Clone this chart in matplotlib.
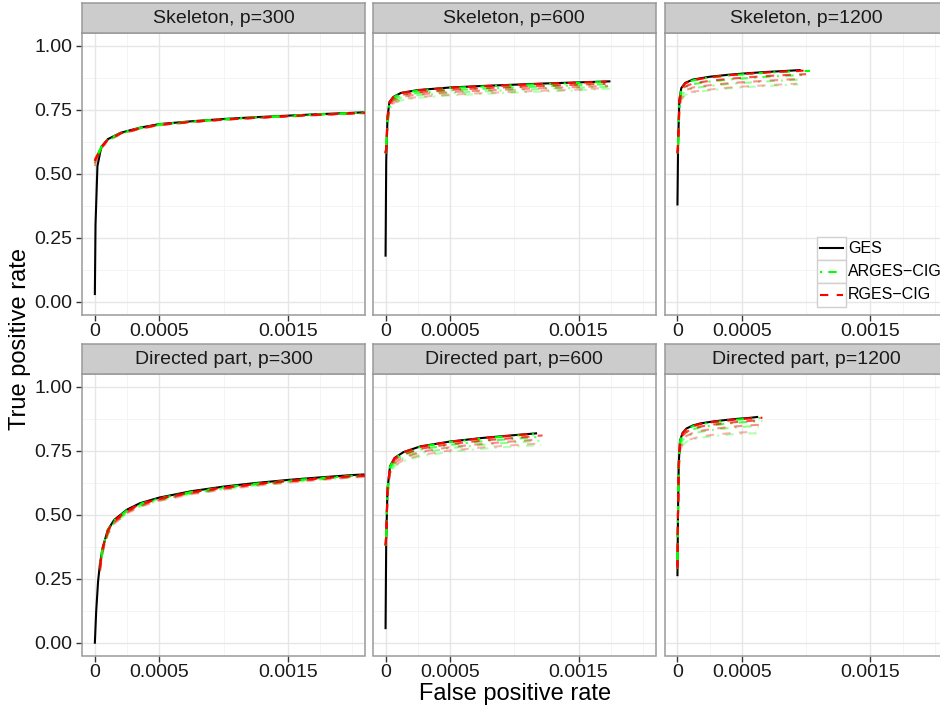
import numpy as np
import matplotlib
matplotlib.use("Agg")
import matplotlib.pyplot as plt
from matplotlib.patches import Rectangle
from matplotlib.lines import Line2D

plt.rcParams['font.family'] = ['Liberation Sans', 'DejaVu Sans']

nan = np.nan

# ---------------- data ----------------
panel_titles = ["Skeleton, p=300", "Skeleton, p=600", "Skeleton, p=1200",
                "Directed part, p=300", "Directed part, p=600", "Directed part, p=1200"]
method_names = ["GES", "ARGES\u2212CIG", "RGES\u2212CIG"]
variant_alpha = [0.3, 0.45, 0.7, 1.0]   # lightest (lowest curve) first

# Skeleton, p=300
skel300_fpr = [0, 5e-6, 2e-5, 5e-5, 1e-4, 2e-4, 3.5e-4, 5e-4, 7.5e-4, 1e-3, 1.25e-3, 1.5e-3, 1.75e-3, 2e-3, 2.3e-3]
skel300_ges = [0.03, 0.30, 0.53, 0.605, 0.635, 0.66, 0.68, 0.694, 0.705, 0.714, 0.721, 0.727, 0.733, 0.738, 0.745]
skel300_arges = [
    [0.53, 0.54, 0.560, 0.598, 0.629, 0.655, 0.676, 0.690, 0.702, 0.711, 0.718, 0.724, 0.730, 0.735, 0.742],
    [0.54, 0.55, 0.565, 0.601, 0.631, 0.657, 0.677, 0.691, 0.703, 0.712, 0.719, 0.725, 0.731, 0.736, 0.743],
    [0.55, 0.555, 0.570, 0.603, 0.633, 0.658, 0.678, 0.692, 0.704, 0.713, 0.720, 0.726, 0.732, 0.737, 0.744],
    [0.55, 0.56, 0.575, 0.605, 0.634, 0.659, 0.679, 0.693, 0.704, 0.713, 0.720, 0.726, 0.732, 0.737, 0.744],
]
skel300_rges = [
    [0.53, 0.54, 0.559, 0.597, 0.628, 0.654, 0.675, 0.689, 0.701, 0.710, 0.717, 0.723, 0.729, 0.734, 0.741],
    [0.54, 0.55, 0.564, 0.600, 0.630, 0.656, 0.676, 0.690, 0.702, 0.711, 0.718, 0.724, 0.730, 0.735, 0.742],
    [0.55, 0.555, 0.569, 0.602, 0.632, 0.657, 0.677, 0.691, 0.703, 0.712, 0.719, 0.725, 0.731, 0.736, 0.743],
    [0.55, 0.56, 0.574, 0.604, 0.633, 0.658, 0.678, 0.692, 0.703, 0.712, 0.719, 0.725, 0.731, 0.736, 0.743],
]
skel300_arges_end = [2.3e-3, 2.3e-3, 2.3e-3, 2.3e-3]
skel300_rges_end = [2.3e-3, 2.3e-3, 2.3e-3, 2.3e-3]

# Skeleton, p=600
skel600_fpr = [0, 5e-6, 1.5e-5, 3e-5, 6e-5, 1.2e-4, 2.5e-4, 5e-4, 7.5e-4, 1e-3, 1.25e-3, 1.5e-3, 1.74e-3]
skel600_ges = [0.18, 0.55, 0.72, 0.78, 0.80, 0.816, 0.827, 0.837, 0.843, 0.848, 0.853, 0.857, 0.861]
skel600_arges = [
    [0.58, 0.60, 0.69, 0.750, 0.772, 0.787, 0.797, 0.806, 0.812, 0.817, 0.822, 0.826, 0.833],
    [0.58, 0.60, 0.70, 0.760, 0.781, 0.797, 0.807, 0.816, 0.822, 0.827, 0.832, 0.836, 0.840],
    [0.58, 0.60, 0.71, 0.770, 0.790, 0.806, 0.816, 0.826, 0.832, 0.837, 0.842, 0.846, 0.850],
    [0.58, 0.60, 0.72, 0.778, 0.798, 0.814, 0.825, 0.835, 0.841, 0.846, 0.851, 0.855, 0.859],
]
skel600_rges = [
    [0.58, 0.60, 0.69, 0.752, 0.775, 0.790, 0.800, 0.809, 0.815, 0.820, 0.825, 0.829, 0.835],
    [0.58, 0.60, 0.70, 0.762, 0.784, 0.800, 0.810, 0.819, 0.825, 0.830, 0.835, 0.839, 0.843],
    [0.58, 0.60, 0.71, 0.772, 0.792, 0.808, 0.818, 0.828, 0.834, 0.839, 0.844, 0.848, 0.852],
    [0.58, 0.60, 0.72, 0.779, 0.799, 0.815, 0.826, 0.836, 0.842, 0.847, 0.852, 0.856, 0.860],
]
skel600_arges_end = [1.75e-3, 1.76e-3, 1.72e-3, 1.74e-3]
skel600_rges_end = [1.70e-3, 1.73e-3, 1.71e-3, 1.72e-3]

# Skeleton, p=1200
skel1200_fpr = [0, 5e-6, 1.5e-5, 3e-5, 6e-5, 1.2e-4, 2.5e-4, 4e-4, 5.5e-4, 7e-4, 8.5e-4, 9.5e-4]
skel1200_ges = [0.38, 0.62, 0.79, 0.835, 0.855, 0.868, 0.879, 0.887, 0.893, 0.898, 0.902, 0.905]
skel1200_arges = [
    [0.58, 0.62, 0.75, 0.790, 0.808, 0.818, 0.826, 0.834, 0.839, 0.843, 0.847, 0.849],
    [0.58, 0.62, 0.76, 0.805, 0.823, 0.834, 0.843, 0.851, 0.856, 0.861, 0.865, 0.868],
    [0.58, 0.62, 0.775, 0.820, 0.838, 0.850, 0.860, 0.868, 0.874, 0.879, 0.883, 0.886],
    [0.58, 0.62, 0.785, 0.832, 0.852, 0.865, 0.876, 0.884, 0.890, 0.895, 0.899, 0.902],
]
skel1200_rges = [
    [0.58, 0.62, 0.75, 0.792, 0.810, 0.821, 0.829, 0.837, 0.842, 0.846, 0.850, 0.852],
    [0.58, 0.62, 0.76, 0.807, 0.826, 0.837, 0.846, 0.854, 0.859, 0.864, 0.868, 0.871],
    [0.58, 0.62, 0.775, 0.822, 0.841, 0.853, 0.863, 0.871, 0.877, 0.882, 0.886, 0.889],
    [0.58, 0.62, 0.785, 0.833, 0.853, 0.866, 0.877, 0.885, 0.891, 0.896, 0.900, 0.903],
]
skel1200_arges_end = [0.94e-3, 0.96e-3, 0.99e-3, 1.03e-3]
skel1200_rges_end = [0.93e-3, 0.97e-3, 1.00e-3, 0.98e-3]

# Directed part, p=300
dir300_fpr = [0, 1e-5, 2.5e-5, 4e-5, 6e-5, 1e-4, 1.5e-4, 2.5e-4, 3.5e-4, 5e-4, 7.5e-4, 1e-3, 1.25e-3, 1.5e-3, 1.75e-3, 2e-3, 2.3e-3]
dir300_ges = [0.0, 0.12, 0.24, 0.31, 0.37, 0.44, 0.48, 0.52, 0.545, 0.567, 0.592, 0.61, 0.624, 0.636, 0.646, 0.655, 0.663]
dir300_arges = [
    [nan, nan, nan, 0.29, 0.355, 0.425, 0.466, 0.506, 0.532, 0.555, 0.581, 0.599, 0.614, 0.626, 0.637, 0.646, 0.655],
    [nan, nan, nan, 0.29, 0.360, 0.430, 0.470, 0.510, 0.536, 0.559, 0.585, 0.603, 0.618, 0.630, 0.640, 0.649, 0.657],
    [nan, nan, nan, 0.30, 0.365, 0.435, 0.474, 0.514, 0.540, 0.562, 0.587, 0.605, 0.620, 0.632, 0.642, 0.651, 0.659],
    [nan, nan, nan, 0.31, 0.370, 0.440, 0.478, 0.517, 0.542, 0.564, 0.589, 0.607, 0.621, 0.633, 0.643, 0.652, 0.660],
]
dir300_rges = [
    [nan, nan, nan, 0.28, 0.350, 0.422, 0.464, 0.505, 0.531, 0.554, 0.580, 0.598, 0.613, 0.625, 0.636, 0.645, 0.654],
    [nan, nan, nan, 0.28, 0.356, 0.428, 0.469, 0.509, 0.535, 0.558, 0.584, 0.602, 0.617, 0.629, 0.639, 0.648, 0.656],
    [nan, nan, nan, 0.29, 0.362, 0.433, 0.473, 0.513, 0.539, 0.561, 0.586, 0.604, 0.619, 0.631, 0.641, 0.650, 0.658],
    [nan, nan, nan, 0.30, 0.368, 0.438, 0.477, 0.516, 0.541, 0.563, 0.588, 0.606, 0.620, 0.632, 0.642, 0.651, 0.659],
]
dir300_arges_end = [2.3e-3, 2.3e-3, 2.3e-3, 2.3e-3]
dir300_rges_end = [2.3e-3, 2.3e-3, 2.3e-3, 2.3e-3]

# Directed part, p=600
dir600_fpr = [0, 5e-6, 1.5e-5, 3.5e-5, 7e-5, 1.4e-4, 2.7e-4, 5e-4, 7.5e-4, 1e-3, 1.17e-3]
dir600_ges = [0.057, 0.40, 0.60, 0.69, 0.722, 0.745, 0.767, 0.786, 0.80, 0.811, 0.818]
dir600_arges = [
    [0.38, 0.42, 0.57, 0.66, 0.690, 0.710, 0.728, 0.746, 0.758, 0.767, 0.772],
    [0.38, 0.42, 0.58, 0.67, 0.700, 0.722, 0.742, 0.760, 0.773, 0.783, 0.790],
    [0.38, 0.42, 0.59, 0.68, 0.712, 0.734, 0.755, 0.773, 0.787, 0.797, 0.804],
    [0.38, 0.42, 0.60, 0.688, 0.720, 0.743, 0.765, 0.784, 0.798, 0.809, 0.816],
]
dir600_rges = [
    [0.38, 0.42, 0.57, 0.662, 0.693, 0.714, 0.733, 0.751, 0.763, 0.772, 0.778],
    [0.38, 0.42, 0.58, 0.672, 0.703, 0.725, 0.746, 0.764, 0.777, 0.787, 0.795],
    [0.38, 0.42, 0.59, 0.682, 0.714, 0.737, 0.758, 0.776, 0.790, 0.800, 0.810],
    [0.38, 0.42, 0.60, 0.689, 0.721, 0.744, 0.766, 0.785, 0.799, 0.810, 0.817],
]
dir600_arges_end = [1.21e-3, 1.22e-3, 1.19e-3, 1.18e-3]
dir600_rges_end = [1.18e-3, 1.20e-3, 1.22e-3, 1.16e-3]

# Directed part, p=1200
dir1200_fpr = [0, 4e-6, 1e-5, 2e-5, 4e-5, 7e-5, 1.2e-4, 1.8e-4, 2.7e-4, 3.7e-4, 4.7e-4, 5.5e-4, 6.2e-4]
dir1200_ges = [0.264, 0.5, 0.70, 0.79, 0.82, 0.837, 0.849, 0.857, 0.864, 0.870, 0.875, 0.878, 0.882]
dir1200_arges = [
    [0.29, 0.5, 0.67, 0.750, 0.772, 0.785, 0.794, 0.801, 0.807, 0.812, 0.816, 0.818, 0.818],
    [0.29, 0.5, 0.68, 0.765, 0.790, 0.805, 0.816, 0.824, 0.831, 0.837, 0.842, 0.845, 0.844],
    [0.29, 0.5, 0.69, 0.778, 0.806, 0.822, 0.834, 0.842, 0.849, 0.855, 0.860, 0.863, 0.866],
    [0.29, 0.5, 0.70, 0.787, 0.817, 0.834, 0.846, 0.854, 0.861, 0.867, 0.872, 0.875, 0.878],
]
dir1200_rges = [
    [0.29, 0.5, 0.67, 0.752, 0.775, 0.789, 0.798, 0.806, 0.812, 0.817, 0.821, 0.823, 0.824],
    [0.29, 0.5, 0.68, 0.767, 0.793, 0.808, 0.820, 0.828, 0.835, 0.841, 0.846, 0.849, 0.852],
    [0.29, 0.5, 0.69, 0.780, 0.808, 0.824, 0.836, 0.845, 0.852, 0.858, 0.863, 0.866, 0.870],
    [0.29, 0.5, 0.70, 0.788, 0.818, 0.835, 0.847, 0.855, 0.862, 0.868, 0.873, 0.876, 0.879],
]
dir1200_arges_end = [0.62e-3, 0.63e-3, 0.66e-3, 0.64e-3]
dir1200_rges_end = [0.61e-3, 0.65e-3, 0.64e-3, 0.66e-3]

x_breaks = [0, 0.0005, 0.0015]
x_break_labels = ["0", "0.0005", "0.0015"]
x_minor = [0.00025, 0.001, 0.00175, 0.002]
y_breaks = [0.0, 0.25, 0.5, 0.75, 1.0]
y_break_labels = ["0.00", "0.25", "0.50", "0.75", "1.00"]
y_minor = [0.125, 0.375, 0.625, 0.875]

panels = [
    (skel300_fpr, skel300_ges, skel300_arges, skel300_rges, skel300_arges_end, skel300_rges_end),
    (skel600_fpr, skel600_ges, skel600_arges, skel600_rges, skel600_arges_end, skel600_rges_end),
    (skel1200_fpr, skel1200_ges, skel1200_arges, skel1200_rges, skel1200_arges_end, skel1200_rges_end),
    (dir300_fpr, dir300_ges, dir300_arges, dir300_rges, dir300_arges_end, dir300_rges_end),
    (dir600_fpr, dir600_ges, dir600_arges, dir600_rges, dir600_arges_end, dir600_rges_end),
    (dir1200_fpr, dir1200_ges, dir1200_arges, dir1200_rges, dir1200_arges_end, dir1200_rges_end),
]

# ---------------- layout (pixels of the 940x711 canvas) ----------------
W, H = 940, 711
col_left = [82, 372.7, 664.6]
panel_w = 283
row_top = [33, 374]
panel_h = 281.5
strip_h = 30.5

border_col = '#9A9A9A'
ges_style = dict(color='black', lw=1.5, linestyle='-')
arges_style = dict(color='#00FF00', lw=1.5, linestyle=(0, (1, 3, 4, 3)))
rges_style = dict(color='#FF0000', lw=1.5, linestyle=(0, (4, 4)))


def fx(px):
    return px / W


def fy(py):
    return 1 - py / H


fig = plt.figure(figsize=(9.4, 7.11), dpi=100)

for i, (fpr, ges, arges, rges, a_end, r_end) in enumerate(panels):
    r, c = divmod(i, 3)
    left, top = col_left[c], row_top[r]
    ax = fig.add_axes([fx(left), fy(top + panel_h), panel_w / W, panel_h / H])
    ax.set_xlim(-0.0001, 0.0021)
    ax.set_ylim(-0.05, 1.05)

    # grid
    for xv in x_minor:
        ax.axvline(xv, color='#F3F3F3', lw=0.6, zorder=0)
    for yv in y_minor:
        ax.axhline(yv, color='#F3F3F3', lw=0.6, zorder=0)
    for xv in x_breaks:
        ax.axvline(xv, color='#E6E6E6', lw=1.0, zorder=0)
    for yv in y_breaks:
        ax.axhline(yv, color='#E6E6E6', lw=1.0, zorder=0)

    ax.plot(fpr, ges, **ges_style, zorder=2)
    for k, alpha in enumerate(variant_alpha):
        xa = list(fpr[:-1]) + [a_end[k]]
        xr = list(fpr[:-1]) + [r_end[k]]
        ax.plot(xa, arges[k], alpha=alpha, zorder=3, **arges_style)
        ax.plot(xr, rges[k], alpha=alpha, zorder=3, **rges_style)

    ax.set_xticks(x_breaks)
    ax.set_xticklabels(x_break_labels)
    ax.set_yticks(y_breaks)
    ax.tick_params(axis='both', labelsize=14, color='#333333', length=4, width=1,
                   labelcolor='#1A1A1A')
    ax.tick_params(axis='x', pad=2)
    ax.tick_params(axis='y', pad=3)
    if c == 0:
        ax.set_yticklabels(y_break_labels)
    else:
        ax.set_yticklabels([])
        ax.tick_params(axis='y', length=0)
    for sp in ax.spines.values():
        sp.set_color(border_col)
        sp.set_linewidth(1.1)

    # strip on top of the panel
    sax = fig.add_axes([fx(left), fy(top), panel_w / W, strip_h / H])
    sax.set_facecolor('#CCCCCC')
    sax.set_xticks([])
    sax.set_yticks([])
    for sp in sax.spines.values():
        sp.set_color(border_col)
        sp.set_linewidth(1.1)
    sax.text(0.5, 0.47, panel_titles[i], transform=sax.transAxes, ha='center', va='center',
             fontsize=14, color='#1A1A1A')

# axis titles
fig.text(fx(514.8), fy(694), "False positive rate", ha='center', va='center', fontsize=17)
fig.text(fx(20), fy(339), "True positive rate", ha='center', va='center', rotation=90, fontsize=17)

# legend inside the top-right panel (cut at the right edge as in the original)
key_left, key_w, key_h = 816.7, 29, 23.3
key_tops = [236.7, 260, 283.3]
key_styles = [ges_style, arges_style, rges_style]
for k in range(3):
    t = key_tops[k]
    fig.add_artist(Rectangle((fx(key_left), fy(t + key_h)), key_w / W, key_h / H,
                             transform=fig.transFigure, facecolor='white',
                             edgecolor='#D0D0D0', lw=1.0))
    fig.add_artist(Line2D([fx(key_left + 3), fx(key_left + key_w - 3)],
                          [fy(t + key_h / 2)] * 2, transform=fig.transFigure,
                          **key_styles[k]))
    fig.text(fx(848), fy(t + key_h / 2), method_names[k], ha='left', va='center',
             fontsize=11.5, color='black')

fig.savefig("out.png", dpi=100)
